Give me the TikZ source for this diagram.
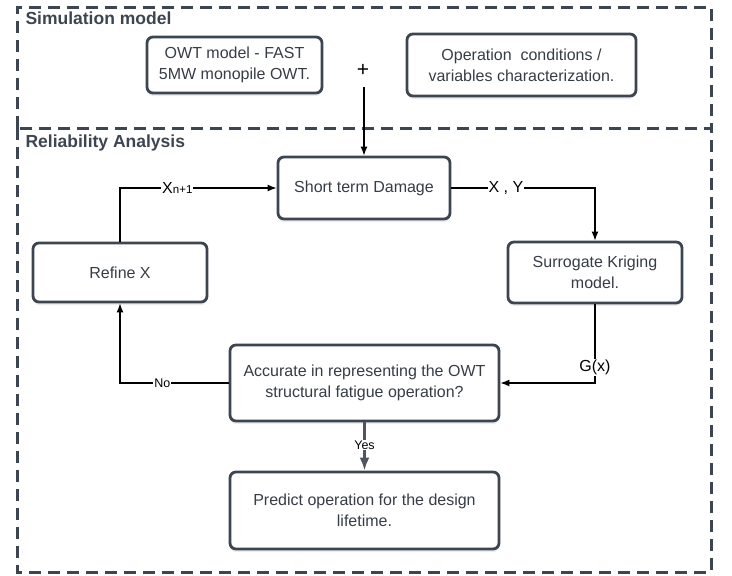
\documentclass[tikz,border=0pt]{standalone}
\usepackage{fontspec}
\setmainfont{Liberation Sans}
\usetikzlibrary{arrows.meta,shadows}
\definecolor{slate}{HTML}{3C4550}
\definecolor{txtgray}{HTML}{363D47}
\definecolor{yesgray}{HTML}{505560}
\tikzset{
	box/.style={draw=slate, line width=2.8pt, rounded corners=6pt, fill=white, text=txtgray, align=center, inner sep=0pt, font=\fontsize{16}{21}\selectfont, drop shadow={opacity=0.15, shadow xshift=0pt, shadow yshift=-3pt}},
	frame/.style={draw=slate, line width=3pt, dash pattern=on 12pt off 7pt},
	flow/.style={draw, line width=1.3pt, -{Latex[length=9pt,width=7pt]}},
	lbl/.style={fill=white, inner sep=1pt, font=\fontsize{16}{18}\selectfont},
	smalllbl/.style={fill=white, inner sep=1pt, font=\fontsize{12.5}{14}\selectfont},
	title/.style={anchor=base west, text=slate, font=\fontsize{17.5}{20}\selectfont\bfseries},
}
\begin{document}
\begin{tikzpicture}[x=1pt,y=-1pt]
		\useasboundingbox (0,0) rectangle (732,576);
		\draw[frame] (17,128) rectangle (711,572);
		\draw[frame] (17,128) -- (17,7) -- (711,7) -- (711,128);
		\node[title] (simtitle) at (22,24) {Simulation model};
		\node[title] (reltitle) at (22,147) {Reliability Analysis};
		\node[box, minimum width=175pt, minimum height=56pt] (owt) at (234.5,65) {OWT model - FAST\\5MW monopile OWT.};
		\node[box, minimum width=229pt, minimum height=62pt] (opc) at (521.5,65) {Operation\ \ conditions /\\variables characterization.};
		\node[font=\fontsize{21}{21}\selectfont] (plus) at (363,70) {+};
		\coordinate (plusend) at (364,87);
		\node[box, minimum width=172pt, minimum height=62pt] (std) at (364,188) {Short term Damage};
		\node[box, minimum width=174pt, minimum height=59pt] (rfx) at (120,272.5) {Refine X};
		\node[box, minimum width=174pt, minimum height=61pt] (skm) at (595,272.5) {Surrogate Kriging\\model.};
		\node[box, minimum width=269pt, minimum height=76pt] (acc) at (364.5,383) {Accurate in representing the OWT\\structural fatigue operation?};
		\node[box, minimum width=269pt, minimum height=77pt] (prd) at (364.5,510.5) {Predict operation for the design\\lifetime.};
		\draw[flow] (plusend) to (std.north);
		\draw[flow] (rfx.north) |- node[lbl, pos=0.683] {X{\fontsize{11.5}{11.5}\selectfont n+1}} (std.west);
		\draw[flow] (std.east) -| node[lbl, pos=0.19] {X , Y} (skm.north);
		\draw[flow] (skm.south) |- node[lbl, pos=0.4] {G(x)} (acc.east);
		\draw[flow] (acc.west) -| node[smalllbl, pos=0.305] {No} (rfx.south);
		\draw[draw=yesgray, line width=3pt, -{Latex[length=13pt,width=10pt]}] (acc.south) to node[smalllbl, pos=0.47] {Yes} (prd.north);
\end{tikzpicture}
\end{document}
